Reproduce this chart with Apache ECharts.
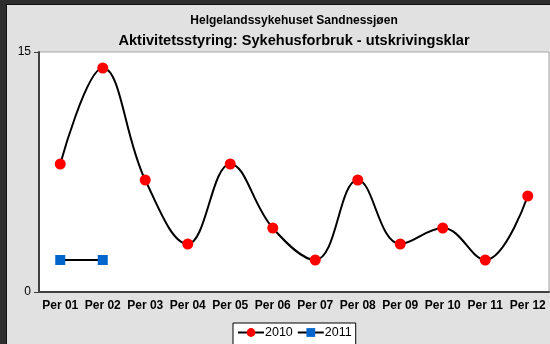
<!DOCTYPE html>
<html>
<head>
<meta charset="utf-8">
<script src="https://cdn.jsdelivr.net/npm/echarts@6/dist/echarts.min.js"></script>
<style>
  html, body { margin: 0; padding: 0; background: #2e2e2e; overflow: hidden; }
  #frame { position: absolute; left: 6px; top: 4px; width: 560px; height: 360px;
           background: #e1e1e1; border-left: 1px solid #111; border-top: 1px solid #111; }
  #chart { position: absolute; left: 0; top: 0; width: 550px; height: 344px; }
</style>
</head>
<body>
<div id="frame"></div>
<div id="chart"></div>
<script>
// Periods on the x axis
const categories = ['Per 01', 'Per 02', 'Per 03', 'Per 04', 'Per 05', 'Per 06',
                    'Per 07', 'Per 08', 'Per 09', 'Per 10', 'Per 11', 'Per 12'];
// Patients ready for discharge, per period
const values2010 = [8, 14, 7, 3, 8, 4, 2, 7, 3, 4, 2, 6];
const values2011 = [2, 2];
const yTicks = [0, 15];

const chart = echarts.init(document.getElementById('chart'), null, { renderer: 'canvas' });
const font = 'Liberation Sans, Arial, sans-serif';

chart.setOption({
  backgroundColor: 'transparent',
  animation: false,
  title: [
    { text: 'Helgelandssykehuset Sandnessjøen', left: 289, top: 10, textAlign: 'center',
      textStyle: { fontFamily: font, fontSize: 12, fontWeight: 'bold', color: '#000' } },
    { text: 'Aktivitetsstyring: Sykehusforbruk - utskrivingsklar', left: 289, top: 28, textAlign: 'center',
      textStyle: { fontFamily: font, fontSize: 14.6, fontWeight: 'bold', color: '#000' } }
  ],
  grid: {
    left: 39, top: 52, width: 510, height: 240,
    show: true, backgroundColor: '#fff', borderColor: '#a8a8a8', borderWidth: 1
  },
  legend: {
    left: 233, top: 323,
    backgroundColor: '#fff', borderColor: '#000', borderWidth: 1,
    padding: [3, 4, 6, 4], itemGap: 4, itemWidth: 26, itemHeight: 11,
    textStyle: { fontFamily: font, fontSize: 12.5, color: '#000', padding: [0, 0, 0, -4] },
    data: ['2010', '2011']
  },
  xAxis: {
    type: 'category', data: categories, boundaryGap: true,
    axisLine: { lineStyle: { color: '#404040', width: 2 } },
    axisTick: { show: false },
    axisLabel: { fontFamily: font, fontSize: 12, fontWeight: 'bold', color: '#000', margin: 8, interval: 0 }
  },
  yAxis: {
    type: 'value', min: yTicks[0], max: yTicks[1], interval: yTicks[1] - yTicks[0],
    axisLine: { show: true, lineStyle: { color: '#404040', width: 2 } },
    axisTick: { show: true, length: 5, lineStyle: { color: '#404040' } },
    splitLine: { show: false },
    axisLabel: { fontFamily: font, fontSize: 12, color: '#000', margin: 8 }
  },
  series: [
    {
      name: '2010', type: 'line', data: values2010, smooth: 0.4,
      symbol: 'circle', symbolSize: 11,
      itemStyle: { color: '#ff0000' },
      lineStyle: { color: '#000', width: 2 }
    },
    {
      name: '2011', type: 'line', data: values2011,
      symbol: 'rect', symbolSize: 10,
      itemStyle: { color: '#0066cc' },
      lineStyle: { color: '#000', width: 2 }
    }
  ]
});
</script>
</body>
</html>
